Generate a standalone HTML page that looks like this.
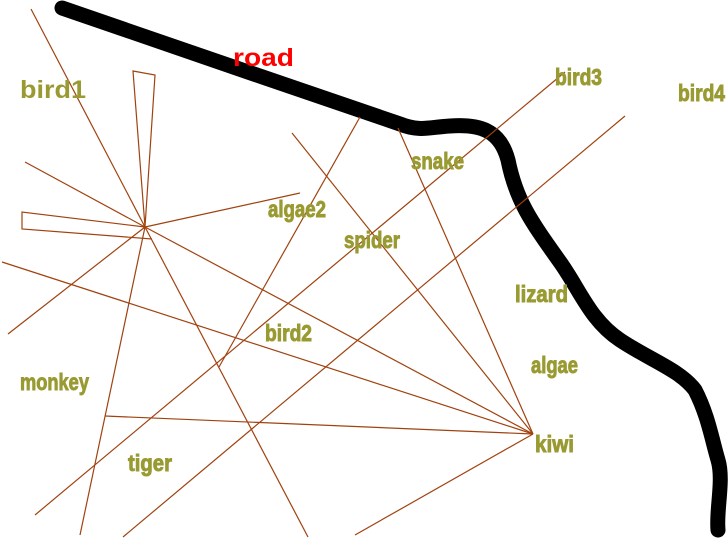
<!DOCTYPE html>
<html><head><meta charset="utf-8"><style>
html,body{margin:0;padding:0;background:#fff;width:728px;height:541px;overflow:hidden}
svg{display:block}
.t{font-family:"Liberation Sans",sans-serif;font-weight:bold;font-size:23px;fill:#9a9a33;stroke:#9a9a33;stroke-width:0.9}
</style></head><body>
<svg width="728" height="541" viewBox="0 0 728 541" xmlns="http://www.w3.org/2000/svg">
<path d="M62,8 C140,35 300,90 400,124 C420,132 430,127 450,126 C480,124 500,130 508,160 C516,200 530,220 560,262 C580,290 590,320 620,340 C650,360 680,370 695,390 C708,415 712,440 718,460 C724,480 716,510 718,530" fill="none" stroke="#000" stroke-width="15" stroke-linecap="round" stroke-linejoin="round"/>
<g stroke="#a0420f" stroke-width="1.2" fill="none">
<line x1="145" y1="227" x2="31" y2="9"/>
<polygon points="133,71 155,75 145,227"/>
<line x1="145" y1="227" x2="25" y2="162"/>
<line x1="145" y1="227" x2="300" y2="193"/>
<polyline points="145,227 22,212 22,229 152,239"/>
<line x1="145" y1="227" x2="8" y2="334"/>
<line x1="145" y1="227" x2="80" y2="535"/>
<line x1="145" y1="227" x2="308" y2="537"/>
<line x1="145" y1="227" x2="533" y2="434"/>
<line x1="2" y1="262" x2="533" y2="434"/>
<line x1="105" y1="416" x2="533" y2="434"/>
<line x1="292" y1="133" x2="533" y2="434"/>
<line x1="398" y1="128" x2="533" y2="434"/>
<line x1="355" y1="535" x2="533" y2="434"/>
<line x1="35" y1="515" x2="565" y2="72"/>
<line x1="123" y1="537" x2="625" y2="116"/>
<line x1="360" y1="117" x2="219" y2="367"/>
</g>
<text x="233" y="66" font-family="Liberation Sans,sans-serif" font-weight="bold" font-size="25" fill="#ff0000" textLength="61" lengthAdjust="spacingAndGlyphs">road</text>
<text x="20" y="98" font-family="Liberation Sans,sans-serif" font-weight="bold" font-size="25" fill="#9a9a33" textLength="66" lengthAdjust="spacingAndGlyphs">bird1</text>
<text class="t" x="555" y="85" textLength="47" lengthAdjust="spacingAndGlyphs">bird3</text>
<text class="t" x="678" y="101" textLength="47" lengthAdjust="spacingAndGlyphs">bird4</text>
<text class="t" x="411" y="169" textLength="53" lengthAdjust="spacingAndGlyphs">snake</text>
<text class="t" x="268" y="217" textLength="58" lengthAdjust="spacingAndGlyphs">algae2</text>
<text class="t" x="344" y="248" textLength="56" lengthAdjust="spacingAndGlyphs">spider</text>
<text class="t" x="515" y="302" textLength="53" lengthAdjust="spacingAndGlyphs">lizard</text>
<text class="t" x="265" y="341" textLength="47" lengthAdjust="spacingAndGlyphs">bird2</text>
<text class="t" x="531" y="373" textLength="47" lengthAdjust="spacingAndGlyphs">algae</text>
<text class="t" x="20" y="390" textLength="69" lengthAdjust="spacingAndGlyphs">monkey</text>
<text class="t" x="535" y="452" textLength="39" lengthAdjust="spacingAndGlyphs">kiwi</text>
<text class="t" x="128" y="471" textLength="44" lengthAdjust="spacingAndGlyphs">tiger</text>
</svg>
</body></html>
